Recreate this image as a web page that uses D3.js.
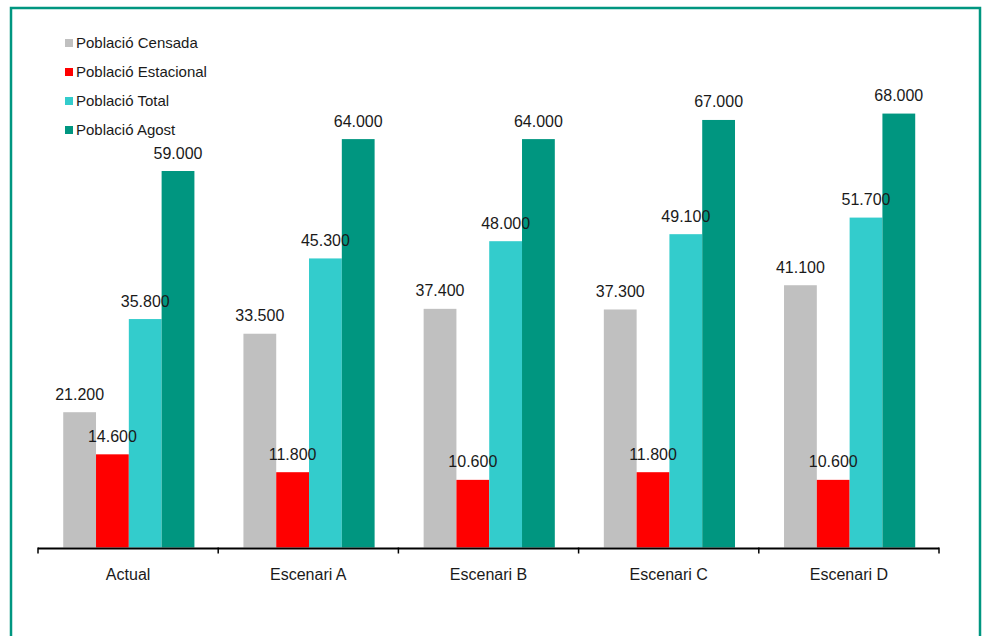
<!DOCTYPE html>
<html>
<head>
<meta charset="utf-8">
<script src="https://cdn.jsdelivr.net/npm/d3@7"></script>
<style>
  html, body { margin: 0; padding: 0; background: #ffffff; }
  svg { display: block; }
  text { font-family: "Liberation Sans", Arial, sans-serif; fill: #1a1a1a; }
</style>
</head>
<body>
<svg id="chart" width="983" height="636"></svg>
<script>
// Categories (scenarios) and the four population series
const categories = ["Actual", "Escenari A", "Escenari B", "Escenari C", "Escenari D"];
const seriesNames = ["Població Censada", "Població Estacional", "Població Total", "Població Agost"];
const censada    = [21200, 33500, 37400, 37300, 41100];
const estacional = [14600, 11800, 10600, 11800, 10600];
const total      = [35800, 45300, 48000, 49100, 51700];
const agost      = [59000, 64000, 64000, 67000, 68000];
const seriesColors = ["#c0c0c0", "#ff0000", "#33cccc", "#009680"];

const seriesValues = [censada, estacional, total, agost];
const rows = categories.map((c, i) => ({
  category: c,
  values: seriesNames.map((s, k) => ({ series: s, value: seriesValues[k][i], k }))
}));

const svg = d3.select("#chart");

// Outer frame
svg.append("rect")
  .attr("x", 11).attr("y", 8)
  .attr("width", 969).attr("height", 660)
  .attr("fill", "none")
  .attr("stroke", "#009680")
  .attr("stroke-width", 2.5);

const baseY = 547.5;
const x = d3.scaleBand().domain(categories).range([38, 939]).paddingInner(0).paddingOuter(0);
const bw = x.bandwidth();
const xs = d3.scaleBand().domain(seriesNames).range([bw * 0.14, bw * 0.868]).paddingInner(0).paddingOuter(0);
const y = d3.scaleLinear().domain([0, 80000]).range([baseY, 37]);

const fmt = v => d3.format(",")(v).replace(/,/g, ".");

// Bars
const groups = svg.append("g").selectAll("g")
  .data(rows).join("g")
  .attr("transform", d => `translate(${x(d.category)},0)`);

groups.selectAll("rect")
  .data(d => d.values).join("rect")
  .attr("x", d => xs(d.series))
  .attr("y", d => y(d.value))
  .attr("width", xs.bandwidth())
  .attr("height", d => baseY - y(d.value))
  .attr("fill", d => seriesColors[d.k]);

// Value labels
groups.selectAll("text.val")
  .data(d => d.values).join("text")
  .attr("class", "val")
  .attr("x", d => xs(d.series) + xs.bandwidth() / 2)
  .attr("y", d => y(d.value) - 12.5)
  .attr("text-anchor", "middle")
  .attr("font-size", 16)
  .text(d => fmt(d.value));

// Category axis: baseline with ticks at band boundaries
const axis = svg.append("g");
axis.append("line")
  .attr("x1", x.range()[0]).attr("x2", x.range()[1])
  .attr("y1", baseY + 1).attr("y2", baseY + 1)
  .attr("stroke", "#000").attr("stroke-width", 2);
const boundaries = categories.map(c => x(c)).concat([x.range()[1]]);
axis.selectAll("line.tick")
  .data(boundaries).join("line")
  .attr("class", "tick")
  .attr("x1", d => d).attr("x2", d => d)
  .attr("y1", baseY).attr("y2", baseY + 6)
  .attr("stroke", "#000").attr("stroke-width", 1.5);
axis.selectAll("text")
  .data(categories).join("text")
  .attr("x", d => x(d) + x.bandwidth() / 2)
  .attr("y", 579.5)
  .attr("text-anchor", "middle")
  .attr("font-size", 16)
  .text(d => d);

// Legend
const legend = svg.append("g").attr("transform", "translate(65,39)");
const li = legend.selectAll("g")
  .data(seriesNames).join("g")
  .attr("transform", (d, i) => `translate(0,${i * 29})`);
li.append("rect")
  .attr("width", 8).attr("height", 8)
  .attr("fill", (d, i) => seriesColors[i]);
li.append("text")
  .attr("x", 11).attr("y", 9)
  .attr("font-size", 15)
  .text(d => d);
</script>
</body>
</html>
